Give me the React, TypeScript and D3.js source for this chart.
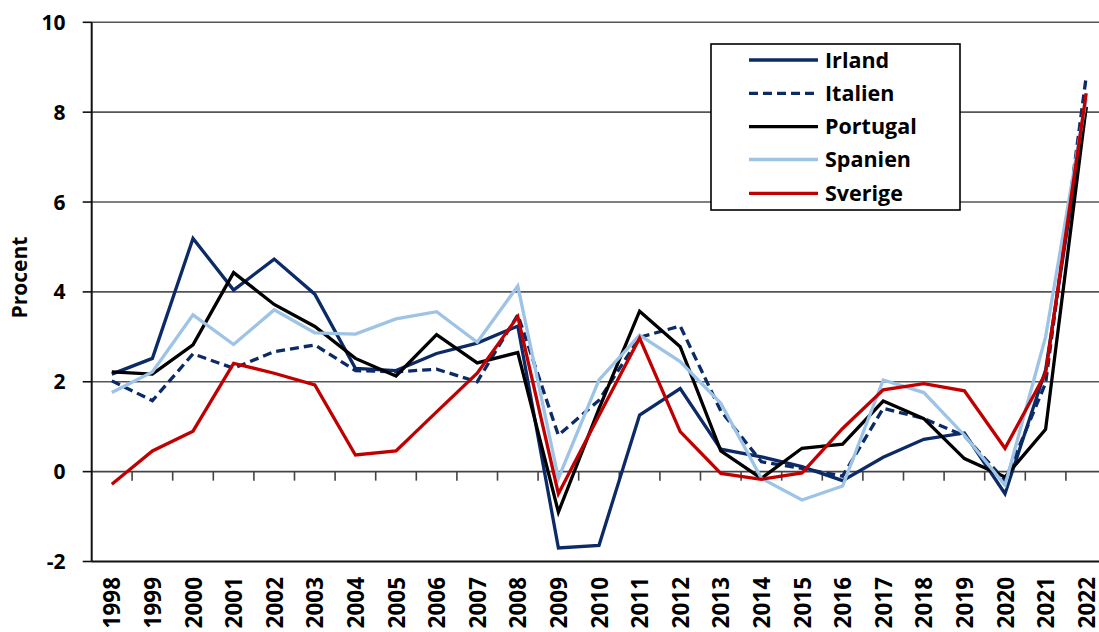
import React from "react";
import * as d3 from "d3";

const years = ["1998","1999","2000","2001","2002","2003","2004","2005","2006","2007","2008","2009","2010","2011","2012","2013","2014","2015","2016","2017","2018","2019","2020","2021","2022"];

const irland = [2.17, 2.52, 5.19, 4.04, 4.73, 3.95, 2.30, 2.25, 2.63, 2.86, 3.24, -1.70, -1.64, 1.26, 1.85, 0.50, 0.33, 0.11, -0.20, 0.32, 0.72, 0.86, -0.49, 2.26, 8.12];
const italien = [2.02, 1.58, 2.62, 2.30, 2.67, 2.82, 2.25, 2.22, 2.28, 2.00, 3.49, 0.81, 1.59, 2.99, 3.24, 1.35, 0.22, 0.07, -0.10, 1.41, 1.18, 0.80, -0.20, 1.97, 8.79];
const portugal = [2.22, 2.17, 2.82, 4.43, 3.72, 3.23, 2.52, 2.13, 3.05, 2.42, 2.65, -0.90, 1.40, 3.57, 2.78, 0.46, -0.15, 0.52, 0.61, 1.57, 1.18, 0.29, -0.12, 0.94, 8.12];
const spanien = [1.76, 2.22, 3.49, 2.83, 3.60, 3.09, 3.06, 3.40, 3.56, 2.88, 4.13, -0.15, 2.04, 3.04, 2.45, 1.52, -0.15, -0.63, -0.32, 2.04, 1.76, 0.81, -0.30, 3.00, 8.30];
const sverige = [-0.28, 0.46, 0.90, 2.41, 2.19, 1.93, 0.37, 0.46, 1.33, 2.19, 3.45, -0.49, 1.25, 2.97, 0.89, -0.04, -0.17, -0.03, 0.96, 1.82, 1.96, 1.80, 0.52, 2.19, 8.42];

const seriesNames = ["Irland", "Italien", "Portugal", "Spanien", "Sverige"];
const seriesValues = [irland, italien, portugal, spanien, sverige];
const seriesColors = ["#0b2a66", "#0b2a66", "#000000", "#9dc3e6", "#c00000"];
const seriesDash = [null, "9,5", null, null, null];

const yTicks = [-2, 0, 2, 4, 6, 8, 10];

const FONT = "'Open Sans', sans-serif";

export default function App() {
  const W = 1099, H = 632;
  const x = d3.scaleBand<string>().domain(years).range([91.5, 1106.5]).padding(0);
  const y = d3.scaleLinear().domain([-2, 10]).range([561.5, 22.3]);
  const cx = (yr: string) => (x(yr) as number) + x.bandwidth() / 2;
  const line = d3.line<number>().x((_, i) => cx(years[i])).y((v) => y(v));

  const legendX = 711, legendY = 44, legendW = 249, legendH = 166;
  const legendRows = [60, 93.3, 126.7, 159.5, 193.3];

  return (
    <svg width={W} height={H} style={{ position: "absolute", left: 0, top: 0, background: "#fff" }} fontFamily={FONT}>
      {yTicks.filter((t) => t > 0).map((t) => (
        <line key={t} x1={91.5} x2={1106.5} y1={y(t)} y2={y(t)} stroke="#555" strokeWidth={1.6} />
      ))}
      <line x1={91.5} x2={1106.5} y1={y(-2)} y2={y(-2)} stroke="#111" strokeWidth={2.2} />
      <line x1={91.5} x2={1106.5} y1={y(0)} y2={y(0)} stroke="#444" strokeWidth={1.6} />
      {years.slice(1).map((yr) => (
        <line key={yr} x1={x(yr) as number} x2={x(yr) as number} y1={y(0)} y2={y(0) + 9} stroke="#444" strokeWidth={1.6} />
      ))}
      <line x1={91.7} x2={91.7} y1={y(10)} y2={y(-2)} stroke="#111" strokeWidth={2} />
      {yTicks.map((t) => (
        <g key={t}>
          <line x1={82.7} x2={91.7} y1={y(t)} y2={y(t)} stroke="#111" strokeWidth={1.6} />
          <text x={65.5} y={y(t)} dy="0.36em" textAnchor="end" fontSize={21} fontWeight={700} fill="#000">{t}</text>
        </g>
      ))}
      <text transform={`translate(26.5,277.5) rotate(-90)`} textAnchor="middle" fontSize={21} fontWeight={700} fill="#000">Procent</text>
      {years.map((yr) => (
        <text key={yr} transform={`translate(${cx(yr) + 8.5},577) rotate(-90)`} textAnchor="end" fontSize={22.5} fontWeight={700} fill="#000">{yr}</text>
      ))}
      {seriesValues.map((vals, i) => (
        <path key={seriesNames[i]} d={line(vals) as string} fill="none" stroke={seriesColors[i]} strokeWidth={3.3}
          strokeDasharray={seriesDash[i] ?? undefined} strokeLinejoin="miter" />
      ))}
      <rect x={legendX} y={legendY} width={legendW} height={legendH} fill="#fff" stroke="#000" strokeWidth={1.6} />
      {seriesNames.map((n, i) => (
        <g key={n}>
          <line x1={749} x2={818} y1={legendRows[i]} y2={legendRows[i]} stroke={seriesColors[i]} strokeWidth={3.3}
            strokeDasharray={seriesDash[i] ?? undefined} />
          <text x={825} y={legendRows[i]} dy="0.36em" fontSize={21.5} fontWeight={700} fill="#000">{n}</text>
        </g>
      ))}
    </svg>
  );
}
